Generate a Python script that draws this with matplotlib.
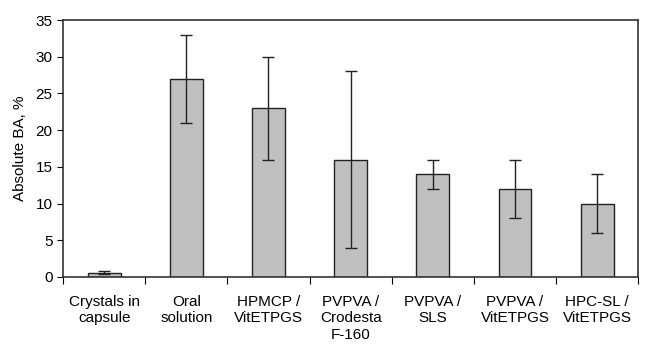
import matplotlib.pyplot as plt
import numpy as np

plt.rcParams['font.family'] = ['Liberation Sans', 'DejaVu Sans']

# data
categories = ['Crystals in\ncapsule', 'Oral\nsolution', 'HPMCP /\nVitETPGS',
              'PVPVA /\nCrodesta\nF-160', 'PVPVA /\nSLS', 'PVPVA /\nVitETPGS',
              'HPC-SL /\nVitETPGS']
ba = [0.6, 27, 23, 16, 14, 12, 10]
err = [0.25, 6, 7, 12, 2, 4, 4]

fig = plt.figure(figsize=(6.5, 3.47), dpi=100)
ax = fig.add_axes([0.097, 0.202, 0.885, 0.740])

x = np.arange(len(categories))
ax.bar(x, ba, width=0.4, color='#c0c0c0', edgecolor='#222222', linewidth=1.0,
       yerr=err, capsize=4, error_kw=dict(ecolor='#222222', elinewidth=1.0, capthick=1.0))

ax.set_xlim(-0.5, len(categories) - 0.5)
ax.set_ylim(0, 35)
ax.set_yticks(range(0, 36, 5))
ax.tick_params(axis='y', labelsize=11, direction='out', length=4.5, pad=3)

# category boundaries as ticks, labels centred between them
ax.set_xticks(np.arange(len(categories) + 1) - 0.5)
ax.set_xticklabels([])
ax.set_xticks(x, minor=True)
ax.set_xticklabels(categories, minor=True, fontsize=11, linespacing=1.22)
ax.tick_params(axis='x', which='major', direction='out', length=5)
ax.tick_params(axis='x', which='minor', length=0, pad=13)

for s in ax.spines.values():
    s.set_color('#333333')
    s.set_linewidth(1.2)

ax.set_ylabel('Absolute BA, %', fontsize=11, labelpad=6)

fig.savefig('out.png', dpi=100)
